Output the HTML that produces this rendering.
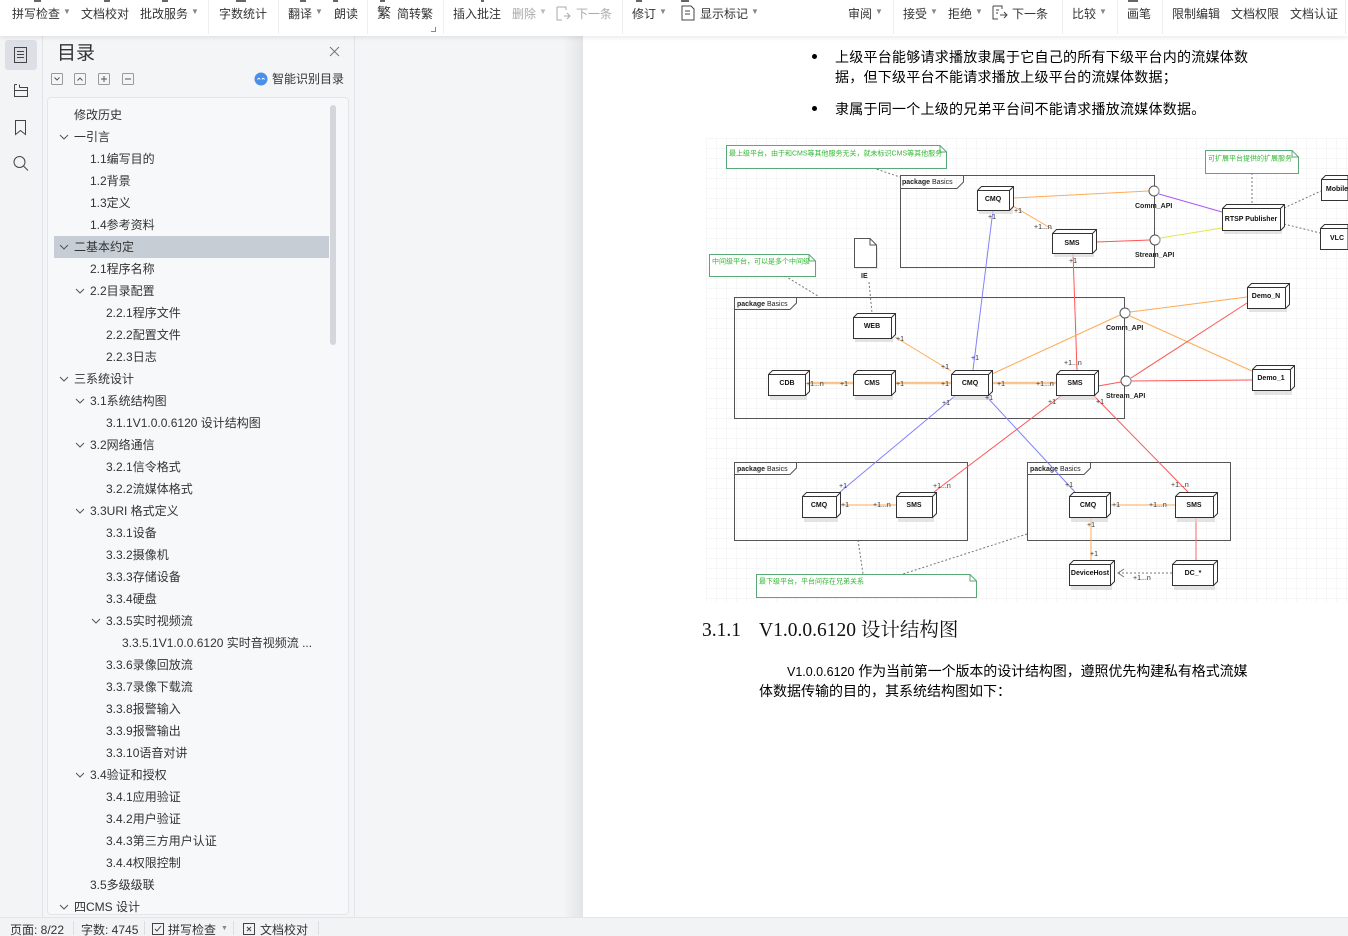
<!DOCTYPE html>
<html><head><meta charset="utf-8">
<style>
*{margin:0;padding:0;box-sizing:border-box}
html,body{width:1348px;height:936px;overflow:hidden}
body{position:relative;background:#f4f5f7;font-family:"Liberation Sans","Noto Sans CJK SC",sans-serif;color:#333}
.a{position:absolute;white-space:nowrap}
#tb{position:absolute;left:0;top:0;width:1348px;height:36px;background:#fff;box-shadow:0 2px 4px rgba(0,0,0,0.08);z-index:5}
.ti{position:absolute;top:6px;font-size:12px;line-height:16px;color:#333;white-space:nowrap}
.g{color:#aaa}
.dd{position:absolute;top:7px;font-size:8px;color:#888}
.sp{position:absolute;top:0;width:1px;height:34px;background:#eceef1}
.cut{position:absolute;top:0;height:2px;background:#666}
#lb{position:absolute;left:0;top:36px;width:43px;height:881px;background:#f3f4f6;border-right:1px solid #e2e4e8}
#pn{position:absolute;left:43px;top:36px;width:312px;height:881px;background:#f4f5f7;border-right:1px solid #e2e4e8}
#lst{position:absolute;left:47px;top:97px;width:302px;height:818px;border:1px solid #e3e5e9;border-radius:4px;background:#f7f8fa;overflow:hidden}
.t{position:absolute;height:22px;line-height:22px;font-size:12px;color:#333;white-space:nowrap}
.cv{position:absolute}
#pg{position:absolute;left:583px;top:36px;width:765px;height:881px;background:#fff}
#sh{position:absolute;left:563px;top:36px;width:20px;height:881px;background:linear-gradient(to right,rgba(0,0,0,0),rgba(0,0,0,0.07))}
#sb{position:absolute;left:0;top:917px;width:1348px;height:19px;background:#f2f3f5;border-top:1px solid #e3e5e8;overflow:hidden}
.st{position:absolute;top:5px;font-size:12px;line-height:14px;color:#333;white-space:nowrap}
.dt{position:absolute;font-size:14px;line-height:20px;color:#000;letter-spacing:0.25px;white-space:nowrap;font-family:"Liberation Sans","Noto Sans CJK SC",sans-serif}
</style></head><body>

<div id="tb">
  <div class="cut" style="left:34px;width:7px"></div>
  <div class="cut" style="left:104px;width:6px"></div>
  <div class="cut" style="left:162px;width:6px"></div>
  <div class="cut" style="left:236px;width:10px"></div>
  <div class="cut" style="left:300px;width:6px"></div>
  <div class="cut" style="left:333px;width:5px"></div>
  <div class="cut" style="left:380px;width:5px"></div>
  <div class="cut" style="left:481px;width:3px"></div>
  <div class="cut" style="left:636px;width:6px"></div>
  <div class="cut" style="left:681px;width:8px"></div>
  <div class="cut" style="left:1128px;width:10px"></div>

  <div class="ti" style="left:12px">拼写检查</div><div class="dd" style="left:63px">▼</div>
  <div class="ti" style="left:81px">文档校对</div>
  <div class="ti" style="left:140px">批改服务</div><div class="dd" style="left:191px">▼</div>
  <div class="sp" style="left:208px"></div>
  <div class="ti" style="left:219px">字数统计</div>
  <div class="sp" style="left:278px"></div>
  <div class="ti" style="left:288px">翻译</div><div class="dd" style="left:315px">▼</div>
  <div class="ti" style="left:334px">朗读</div>
  <div class="sp" style="left:367px"></div>
  <div class="ti" style="left:377px;font-size:14px;top:5px">繁</div>
  <div class="ti" style="left:397px">简转繁</div>
  <div class="a" style="left:431px;top:27px;width:5px;height:5px;border-right:1px solid #888;border-bottom:1px solid #888"></div>
  <div class="sp" style="left:443px"></div>
  <div class="ti" style="left:453px">插入批注</div>
  <div class="ti g" style="left:512px">删除</div><div class="dd" style="left:539px;color:#bbb">▼</div>
  <svg class="a" style="left:556px;top:6px" width="16" height="16"><path d="M1 1H10V4M1 1V14H6M8 10H14M11 7L14 10L11 13" stroke="#aaa" fill="none"/></svg>
  <div class="ti g" style="left:576px">下一条</div>
  <div class="sp" style="left:622px"></div>
  <div class="ti" style="left:632px">修订</div><div class="dd" style="left:659px">▼</div>
  <svg class="a" style="left:680px;top:5px" width="16" height="16"><path d="M2 1H11L14 4V15H2Z M5 6H10M5 9H10" stroke="#444" fill="none"/></svg>
  <div class="ti" style="left:700px">显示标记</div><div class="dd" style="left:751px">▼</div>
  <div class="ti" style="left:848px">审阅</div><div class="dd" style="left:875px">▼</div>
  <div class="sp" style="left:893px"></div>
  <div class="ti" style="left:903px">接受</div><div class="dd" style="left:930px">▼</div>
  <div class="ti" style="left:948px">拒绝</div><div class="dd" style="left:975px">▼</div>
  <svg class="a" style="left:992px;top:5px" width="17" height="17"><path d="M1 1H10V4M1 1V14H6M8 10H15M12 7L15 10L12 13M4 5H7M4 8H6" stroke="#444" fill="none"/></svg>
  <div class="ti" style="left:1012px">下一条</div>
  <div class="sp" style="left:1062px"></div>
  <div class="ti" style="left:1072px">比较</div><div class="dd" style="left:1099px">▼</div>
  <div class="sp" style="left:1117px"></div>
  <div class="ti" style="left:1127px">画笔</div>
  <div class="sp" style="left:1162px"></div>
  <div class="ti" style="left:1172px">限制编辑</div>
  <div class="ti" style="left:1231px">文档权限</div>
  <div class="ti" style="left:1290px">文档认证</div>
  <div class="sp" style="left:1345px"></div>
</div>

<div id="lb"></div>
<div class="a" style="left:5px;top:40px;width:32px;height:30px;background:#dcdfe5;border-radius:3px"></div>
<svg class="a" style="left:0;top:36px" width="42" height="150">
  <rect x="14.5" y="11.5" width="12" height="15" fill="none" stroke="#444"/>
  <path d="M17 15.5H24M17 18.5H24M17 21.5H24" stroke="#444"/>
  <path d="M14.5 48.5H17M14.5 48.5V60.5H27.5V51.5H19.5M19.5 48.5V51.5M14.5 54.5H27.5" stroke="#444" fill="none"/>
  <path d="M15.5 84.5V98.5L20.5 94.5L25.5 98.5V84.5Z" stroke="#444" fill="none"/>
  <circle cx="19.5" cy="126" r="5.5" stroke="#444" fill="none"/>
  <path d="M23.5 130L28 134.5" stroke="#444"/>
</svg>

<div id="pn"></div>
<div class="a" style="left:57px;top:42px;font-size:19px;line-height:24px;color:#333">目录</div>
<svg class="a" style="left:329px;top:46px" width="11" height="11"><path d="M1 1L10 10M10 1L1 10" stroke="#777"/></svg>
<svg class="a" style="left:50px;top:72px" width="90" height="14">
  <rect x="1.5" y="1.5" width="11" height="11" rx="1" fill="none" stroke="#999"/>
  <path d="M4.5 5.5L7 8L9.5 5.5" stroke="#555" fill="none"/>
  <rect x="24.5" y="1.5" width="11" height="11" rx="1" fill="none" stroke="#999"/>
  <path d="M27.5 8.5L30 6L32.5 8.5" stroke="#555" fill="none"/>
  <rect x="48.5" y="1.5" width="11" height="11" rx="1" fill="none" stroke="#999"/>
  <path d="M51 7H57M54 4V10" stroke="#555"/>
  <rect x="72.5" y="1.5" width="11" height="11" rx="1" fill="none" stroke="#999"/>
  <path d="M75 7H81" stroke="#555"/>
</svg>
<svg class="a" style="left:254px;top:72px" width="14" height="14"><circle cx="7" cy="7" r="6.5" fill="#4a90e8"/><path d="M3.5 7.5Q5 5 6 7.5M8 7.5Q9 5 10.5 7.5" stroke="#fff" fill="none"/></svg>
<div class="a" style="left:272px;top:71px;font-size:12px;line-height:16px;color:#333">智能识别目录</div>

<div id="lst"></div>
<div class="a" style="left:48px;top:98px;width:300px;height:816px;overflow:hidden">
  <div class="a" style="left:6px;top:138px;width:275px;height:22px;background:#c6cdd5"></div>
  <div class="a" style="left:282px;top:7px;width:6px;height:240px;background:#d3d6db;border-radius:3px"></div>
</div>
<div class="a" style="left:48px;top:98px;width:300px;height:816px;overflow:hidden">
<div style="position:absolute;left:-48px;top:-97px;width:400px;height:912px">
<div class="t" style="top:103px;left:74px">修改历史</div>
<div class="t" style="top:125px;left:74px">一引言</div>
<div class="t" style="top:147px;left:90px">1.1编写目的</div>
<div class="t" style="top:169px;left:90px">1.2背景</div>
<div class="t" style="top:191px;left:90px">1.3定义</div>
<div class="t" style="top:213px;left:90px">1.4参考资料</div>
<div class="t" style="top:235px;left:74px">二基本约定</div>
<div class="t" style="top:257px;left:90px">2.1程序名称</div>
<div class="t" style="top:279px;left:90px">2.2目录配置</div>
<div class="t" style="top:301px;left:106px">2.2.1程序文件</div>
<div class="t" style="top:323px;left:106px">2.2.2配置文件</div>
<div class="t" style="top:345px;left:106px">2.2.3日志</div>
<div class="t" style="top:367px;left:74px">三系统设计</div>
<div class="t" style="top:389px;left:90px">3.1系统结构图</div>
<div class="t" style="top:411px;left:106px">3.1.1V1.0.0.6120 设计结构图</div>
<div class="t" style="top:433px;left:90px">3.2网络通信</div>
<div class="t" style="top:455px;left:106px">3.2.1信令格式</div>
<div class="t" style="top:477px;left:106px">3.2.2流媒体格式</div>
<div class="t" style="top:499px;left:90px">3.3URI 格式定义</div>
<div class="t" style="top:521px;left:106px">3.3.1设备</div>
<div class="t" style="top:543px;left:106px">3.3.2摄像机</div>
<div class="t" style="top:565px;left:106px">3.3.3存储设备</div>
<div class="t" style="top:587px;left:106px">3.3.4硬盘</div>
<div class="t" style="top:609px;left:106px">3.3.5实时视频流</div>
<div class="t" style="top:631px;left:122px">3.3.5.1V1.0.0.6120 实时音视频流 ...</div>
<div class="t" style="top:653px;left:106px">3.3.6录像回放流</div>
<div class="t" style="top:675px;left:106px">3.3.7录像下载流</div>
<div class="t" style="top:697px;left:106px">3.3.8报警输入</div>
<div class="t" style="top:719px;left:106px">3.3.9报警输出</div>
<div class="t" style="top:741px;left:106px">3.3.10语音对讲</div>
<div class="t" style="top:763px;left:90px">3.4验证和授权</div>
<div class="t" style="top:785px;left:106px">3.4.1应用验证</div>
<div class="t" style="top:807px;left:106px">3.4.2用户验证</div>
<div class="t" style="top:829px;left:106px">3.4.3第三方用户认证</div>
<div class="t" style="top:851px;left:106px">3.4.4权限控制</div>
<div class="t" style="top:873px;left:90px">3.5多级级联</div>
<div class="t" style="top:895px;left:74px;height:17px;overflow:hidden">四CMS 设计</div>
<svg class="cv" style="left:0;top:0" width="120" height="911">
 <g stroke="#555" fill="none">
  <path d="M60 134L64 138L68 134"/>
  <path d="M60 244L64 248L68 244"/>
  <path d="M76 288L80 292L84 288"/>
  <path d="M60 376L64 380L68 376"/>
  <path d="M76 398L80 402L84 398"/>
  <path d="M76 442L80 446L84 442"/>
  <path d="M76 508L80 512L84 508"/>
  <path d="M92 618L96 622L100 618"/>
  <path d="M76 772L80 776L84 772"/>
  <path d="M60 904L64 908L68 904"/>
 </g>
</svg>
</div>
</div>

<div id="sh"></div>
<div id="pg"></div>

<div class="a" style="left:812px;top:54px;width:5px;height:5px;border-radius:50%;background:#000"></div>
<div class="dt" style="left:835px;top:47px">上级平台能够请求播放隶属于它自己的所有下级平台内的流媒体数</div>
<div class="dt" style="left:835px;top:67px">据，但下级平台不能请求播放上级平台的流媒体数据；</div>
<div class="a" style="left:812px;top:106px;width:5px;height:5px;border-radius:50%;background:#000"></div>
<div class="dt" style="left:835px;top:99px">隶属于同一个上级的兄弟平台间不能请求播放流媒体数据。</div>

<div class="a" style="left:702px;top:619px;font-family:'Liberation Serif','Noto Serif CJK SC',serif;font-size:19.5px;line-height:24px;color:#111">3.1.1</div>
<div class="a" style="left:759px;top:619px;font-family:'Liberation Serif','Noto Serif CJK SC',serif;font-size:19.5px;line-height:24px;color:#111">V1.0.0.6120 设计结构图</div>
<div class="dt" style="left:787px;top:661px;letter-spacing:-0.1px"><span style="font-size:12.5px;letter-spacing:0">V1.0.0.6120</span> 作为当前第一个版本的设计结构图，遵照优先构建私有格式流媒</div>
<div class="dt" style="left:759px;top:681px;letter-spacing:0">体数据传输的目的，其系统结构图如下：</div>

<svg class="a" style="left:0;top:0" width="1348" height="936" viewBox="0 0 1348 936" font-family="Liberation Sans, Noto Sans CJK SC, sans-serif">
<defs>
 <pattern id="gr" width="10" height="10" patternUnits="userSpaceOnUse" x="706" y="138">
  <path d="M10 0H0V10" fill="none" stroke="#efefef" stroke-width="1"/>
 </pattern>
</defs>
<rect x="706" y="138" width="642" height="464" fill="url(#gr)"/>

<g stroke="#777" stroke-dasharray="2,2" fill="none">
 <path d="M873 168L900 177"/>
 <path d="M869 282L872 313"/>
 <path d="M785 276L818 296"/>
 <path d="M1252 173V204"/>
 <path d="M1284 208L1321 191"/>
 <path d="M1284 224L1320 233"/>
 <path d="M858 540L863 574"/>
 <path d="M1027 534L903 574"/>
 <path d="M1172 573H1118"/>
</g>
<path d="M1124 569L1118 573L1124 577" stroke="#777" fill="none"/>

<g fill="none" stroke="#555">
 <rect x="900.5" y="175.5" width="254" height="92"/>
 <path d="M900.5 188.5H957L963.5 182V175.5"/>
 <rect x="734.5" y="297.5" width="390" height="121"/>
 <path d="M734.5 309.5H790L796.5 303V297.5"/>
 <rect x="734.5" y="462.5" width="233" height="78"/>
 <path d="M734.5 474.5H790L796.5 468V462.5"/>
 <rect x="1027.5" y="462.5" width="203" height="78"/>
 <path d="M1027.5 474.5H1084L1090.5 468V462.5"/>
</g>
<g font-size="7" fill="#222">
 <text x="902" y="184"><tspan font-weight="bold">package</tspan> Basics</text>
 <text x="737" y="306"><tspan font-weight="bold">package</tspan> Basics</text>
 <text x="737" y="471"><tspan font-weight="bold">package</tspan> Basics</text>
 <text x="1030" y="471"><tspan font-weight="bold">package</tspan> Basics</text>
</g>

<g fill="#fff" stroke="#5aa878">
 <path d="M726.5 145.5H940L946.5 152V168.5H726.5Z"/>
 <path d="M709.5 254.5H809L815.5 261V276.5H709.5Z"/>
 <path d="M756.5 574.5H970L976.5 581V597.5H756.5Z"/>
 <path d="M1205.5 150.5H1292L1298.5 157V173.5H1205.5Z"/>
</g>
<g fill="none" stroke="#5aa878">
 <path d="M940 145.5V152H946.5"/>
 <path d="M809 254.5V261H815.5"/>
 <path d="M970 574.5V581H976.5"/>
 <path d="M1292 150.5V157H1298.5"/>
</g>
<g font-size="7" fill="#33b833">
 <text x="729" y="155.5">最上级平台，由于和CMS等其他服务无关，就未标识CMS等其他服务</text>
 <text x="712" y="263.5">中间级平台，可以是多个中间级</text>
 <text x="759" y="583.5">最下级平台，平台间存在兄弟关系</text>
 <text x="1208" y="160.5">可扩展平台提供的扩展服务</text>
</g>

<path d="M856 240H872L878 247V269H856Z" fill="#ddd" opacity="0.6"/>
<path d="M854.5 238.5H870L876.5 245V267.5H854.5Z" fill="#fff" stroke="#555"/>
<path d="M870 238.5V245H876.5" fill="none" stroke="#555"/>
<text x="861" y="278" font-size="7" font-weight="bold" fill="#222">IE</text>

<g fill="none" stroke-width="1">
 <path d="M1013 198L1149 191" stroke="#ffaa55"/>
 <path d="M1013 206L1052 229" stroke="#ffaa55"/>
 <path d="M1096 242L1150 240" stroke="#ff5555"/>
 <path d="M1159 194L1222 212" stroke="#aa55ff"/>
 <path d="M1160 238L1222 228" stroke="#e6e650"/>
 <path d="M973 370L993 210" stroke="#8080ff"/>
 <path d="M1073 253L1077 370" stroke="#ff5555"/>
 <path d="M895 337L951 371" stroke="#ffaa55"/>
 <path d="M992 374L1120 315" stroke="#ffaa55"/>
 <path d="M1098 386L1121 382" stroke="#ff5555"/>
 <path d="M1130 312L1247 297" stroke="#ffaa55"/>
 <path d="M1130 316L1252 371" stroke="#ffaa55"/>
 <path d="M1131 378L1247 303" stroke="#ff5555"/>
 <path d="M1131 381L1252 380" stroke="#ff5555"/>
 <path d="M955 396L840 492" stroke="#8080ff"/>
 <path d="M986 396L1075 492" stroke="#8080ff"/>
 <path d="M1061 396L934 492" stroke="#ff5555"/>
 <path d="M1094 396L1188 492" stroke="#ff5555"/>
 <path d="M840 505H896" stroke="#ffaa55"/>
 <path d="M1110 505H1175" stroke="#ffaa55"/>
 <path d="M1091 518V560" stroke="#ffaa55"/>
 <path d="M1196 518V560" stroke="#ff6666"/>
</g>
<g stroke="#f8c490" stroke-width="2.5">
 <path d="M809 383H853"/>
 <path d="M895 383H951"/>
 <path d="M992 383H1056"/>
</g>

<g fill="#fff" stroke="#555">
 <circle cx="1154" cy="191" r="5"/>
 <circle cx="1155" cy="240" r="5"/>
 <circle cx="1125" cy="313" r="5"/>
 <circle cx="1126" cy="381" r="5"/>
</g>
<g fill="none" stroke="#999">
 <path d="M1157 187A5 5 0 0 1 1157 195"/>
 <path d="M1158 236A5 5 0 0 1 1158 244"/>
 <path d="M1128 309A5 5 0 0 1 1128 317"/>
 <path d="M1129 377A5 5 0 0 1 1129 385"/>
</g>
<g font-size="7" font-weight="bold" fill="#222">
 <text x="1135" y="208">Comm_API</text>
 <text x="1135" y="257">Stream_API</text>
 <text x="1106" y="330">Comm_API</text>
 <text x="1106" y="398">Stream_API</text>
</g>

<g fill="#d8d8d8" stroke="none" opacity="0.7">
 <rect x="979" y="194" width="34" height="20"/>
 <rect x="1054" y="237" width="40" height="20"/>
 <rect x="1224" y="212" width="58" height="22"/>
 <rect x="855" y="321" width="38" height="21"/>
 <rect x="770" y="378" width="37" height="22"/>
 <rect x="855" y="378" width="38" height="22"/>
 <rect x="953" y="378" width="37" height="22"/>
 <rect x="1058" y="378" width="38" height="22"/>
 <rect x="1249" y="291" width="38" height="21"/>
 <rect x="1254" y="373" width="38" height="22"/>
 <rect x="804" y="500" width="34" height="22"/>
 <rect x="898" y="500" width="36" height="22"/>
 <rect x="1071" y="500" width="37" height="22"/>
 <rect x="1177" y="500" width="38" height="22"/>
 <rect x="1071" y="568" width="41" height="22"/>
 <rect x="1174" y="568" width="41" height="22"/>
</g>
<g fill="#fff" stroke="#333">
 <path d="M977.5 190.5L981.5 186.5H1013.5V206.5L1009.5 210.5H977.5Z"/><path d="M977.5 190.5H1009.5V210.5M1009.5 190.5L1013.5 186.5" fill="none"/>
 <path d="M1052.5 233.5L1056.5 229.5H1096.5V249.5L1092.5 253.5H1052.5Z"/><path d="M1052.5 233.5H1092.5V253.5M1092.5 233.5L1096.5 229.5" fill="none"/>
 <path d="M1222.5 208.5L1226.5 204.5H1284.5V226.5L1280.5 230.5H1222.5Z"/><path d="M1222.5 208.5H1280.5V230.5M1280.5 208.5L1284.5 204.5" fill="none"/>
 <path d="M1321.5 179.5L1325.5 175.5H1348V200.5H1321.5Z"/><path d="M1321.5 179.5H1348" fill="none"/>
 <path d="M1320.5 228.5L1324.5 224.5H1348V249.5H1320.5Z"/><path d="M1320.5 228.5H1348" fill="none"/>
 <path d="M853.5 317.5L857.5 313.5H895.5V334.5L891.5 338.5H853.5Z"/><path d="M853.5 317.5H891.5V338.5M891.5 317.5L895.5 313.5" fill="none"/>
 <path d="M768.5 374.5L772.5 370.5H809.5V391.5L805.5 395.5H768.5Z"/><path d="M768.5 374.5H805.5V395.5M805.5 374.5L809.5 370.5" fill="none"/>
 <path d="M853.5 374.5L857.5 370.5H895.5V391.5L891.5 395.5H853.5Z"/><path d="M853.5 374.5H891.5V395.5M891.5 374.5L895.5 370.5" fill="none"/>
 <path d="M951.5 374.5L955.5 370.5H992.5V391.5L988.5 395.5H951.5Z"/><path d="M951.5 374.5H988.5V395.5M988.5 374.5L992.5 370.5" fill="none"/>
 <path d="M1056.5 374.5L1060.5 370.5H1098.5V391.5L1094.5 395.5H1056.5Z"/><path d="M1056.5 374.5H1094.5V395.5M1094.5 374.5L1098.5 370.5" fill="none"/>
 <path d="M1247.5 287.5L1251.5 283.5H1289.5V304.5L1285.5 308.5H1247.5Z"/><path d="M1247.5 287.5H1285.5V308.5M1285.5 287.5L1289.5 283.5" fill="none"/>
 <path d="M1252.5 369.5L1256.5 365.5H1294.5V386.5L1290.5 390.5H1252.5Z"/><path d="M1252.5 369.5H1290.5V390.5M1290.5 369.5L1294.5 365.5" fill="none"/>
 <path d="M802.5 496.5L806.5 492.5H840.5V513.5L836.5 517.5H802.5Z"/><path d="M802.5 496.5H836.5V517.5M836.5 496.5L840.5 492.5" fill="none"/>
 <path d="M896.5 496.5L900.5 492.5H936.5V513.5L932.5 517.5H896.5Z"/><path d="M896.5 496.5H932.5V517.5M932.5 496.5L936.5 492.5" fill="none"/>
 <path d="M1069.5 496.5L1073.5 492.5H1110.5V513.5L1106.5 517.5H1069.5Z"/><path d="M1069.5 496.5H1106.5V517.5M1106.5 496.5L1110.5 492.5" fill="none"/>
 <path d="M1175.5 496.5L1179.5 492.5H1217.5V513.5L1213.5 517.5H1175.5Z"/><path d="M1175.5 496.5H1213.5V517.5M1213.5 496.5L1217.5 492.5" fill="none"/>
 <path d="M1069.5 564.5L1073.5 560.5H1114.5V581.5L1110.5 585.5H1069.5Z"/><path d="M1069.5 564.5H1110.5V585.5M1110.5 564.5L1114.5 560.5" fill="none"/>
 <path d="M1172.5 564.5L1176.5 560.5H1217.5V581.5L1213.5 585.5H1172.5Z"/><path d="M1172.5 564.5H1213.5V585.5M1213.5 564.5L1217.5 560.5" fill="none"/>
</g>
<g font-size="7" font-weight="bold" fill="#111" text-anchor="middle">
 <text x="993" y="201">CMQ</text>
 <text x="1072" y="245">SMS</text>
 <text x="1251" y="221">RTSP Publisher</text>
 <text x="1337" y="191">Mobile</text>
 <text x="1337" y="240">VLC</text>
 <text x="872" y="328">WEB</text>
 <text x="787" y="385">CDB</text>
 <text x="872" y="385">CMS</text>
 <text x="970" y="385">CMQ</text>
 <text x="1075" y="385">SMS</text>
 <text x="1266" y="298">Demo_N</text>
 <text x="1271" y="380">Demo_1</text>
 <text x="819" y="507">CMQ</text>
 <text x="914" y="507">SMS</text>
 <text x="1088" y="507">CMQ</text>
 <text x="1194" y="507">SMS</text>
 <text x="1090" y="575">DeviceHost</text>
 <text x="1193" y="575">DC_*</text>
</g>

<g font-size="7" fill="#333">
 <text x="988" y="219">+1</text>
 <text x="1014" y="213">+1</text>
 <text x="1034" y="229">+1...n</text>
 <text x="1069" y="263">+1</text>
 <text x="971" y="360">+1</text>
 <text x="1064" y="365">+1...n</text>
 <text x="896" y="341">+1</text>
 <text x="941" y="369">+1</text>
 <text x="806" y="386">+1...n</text>
 <text x="840" y="386">+1</text>
 <text x="896" y="386">+1</text>
 <text x="941" y="386">+1</text>
 <text x="997" y="386">+1</text>
 <text x="1036" y="386">+1...n</text>
 <text x="942" y="405">+1</text>
 <text x="985" y="400">+1</text>
 <text x="1048" y="404">+1</text>
 <text x="1096" y="404">+1</text>
 <text x="839" y="488">+1</text>
 <text x="933" y="488">+1...n</text>
 <text x="841" y="507">+1</text>
 <text x="873" y="507">+1...n</text>
 <text x="1065" y="487">+1</text>
 <text x="1171" y="487">+1...n</text>
 <text x="1112" y="507">+1</text>
 <text x="1149" y="507">+1...n</text>
 <text x="1087" y="527">+1</text>
 <text x="1090" y="556">+1</text>
 <text x="1133" y="580">+1...n</text>
</g>
</svg>

<div id="sb">
  <div class="st" style="left:10px">页面: 8/22</div>
  <div class="a" style="left:73px;top:3px;width:1px;height:14px;background:#dcdee2"></div>
  <div class="st" style="left:81px">字数: 4745</div>
  <div class="a" style="left:144px;top:3px;width:1px;height:14px;background:#dcdee2"></div>
  <svg class="a" style="left:151px;top:4px" width="14" height="14"><rect x="1.5" y="1.5" width="11" height="11" fill="none" stroke="#444"/><path d="M4 7L6 9L10 4" stroke="#444" fill="none"/></svg>
  <div class="st" style="left:168px">拼写检查</div>
  <div class="a" style="left:221px;top:7px;font-size:7px;color:#888">▼</div>
  <div class="a" style="left:233px;top:3px;width:1px;height:14px;background:#dcdee2"></div>
  <svg class="a" style="left:242px;top:4px" width="14" height="14"><rect x="1.5" y="1.5" width="11" height="11" fill="none" stroke="#444"/><path d="M5 5L9 9M9 5L5 9" stroke="#444"/></svg>
  <div class="st" style="left:260px">文档校对</div>
  <div class="a" style="left:318px;top:3px;width:1px;height:14px;background:#dcdee2"></div>
</div>
</body></html>
